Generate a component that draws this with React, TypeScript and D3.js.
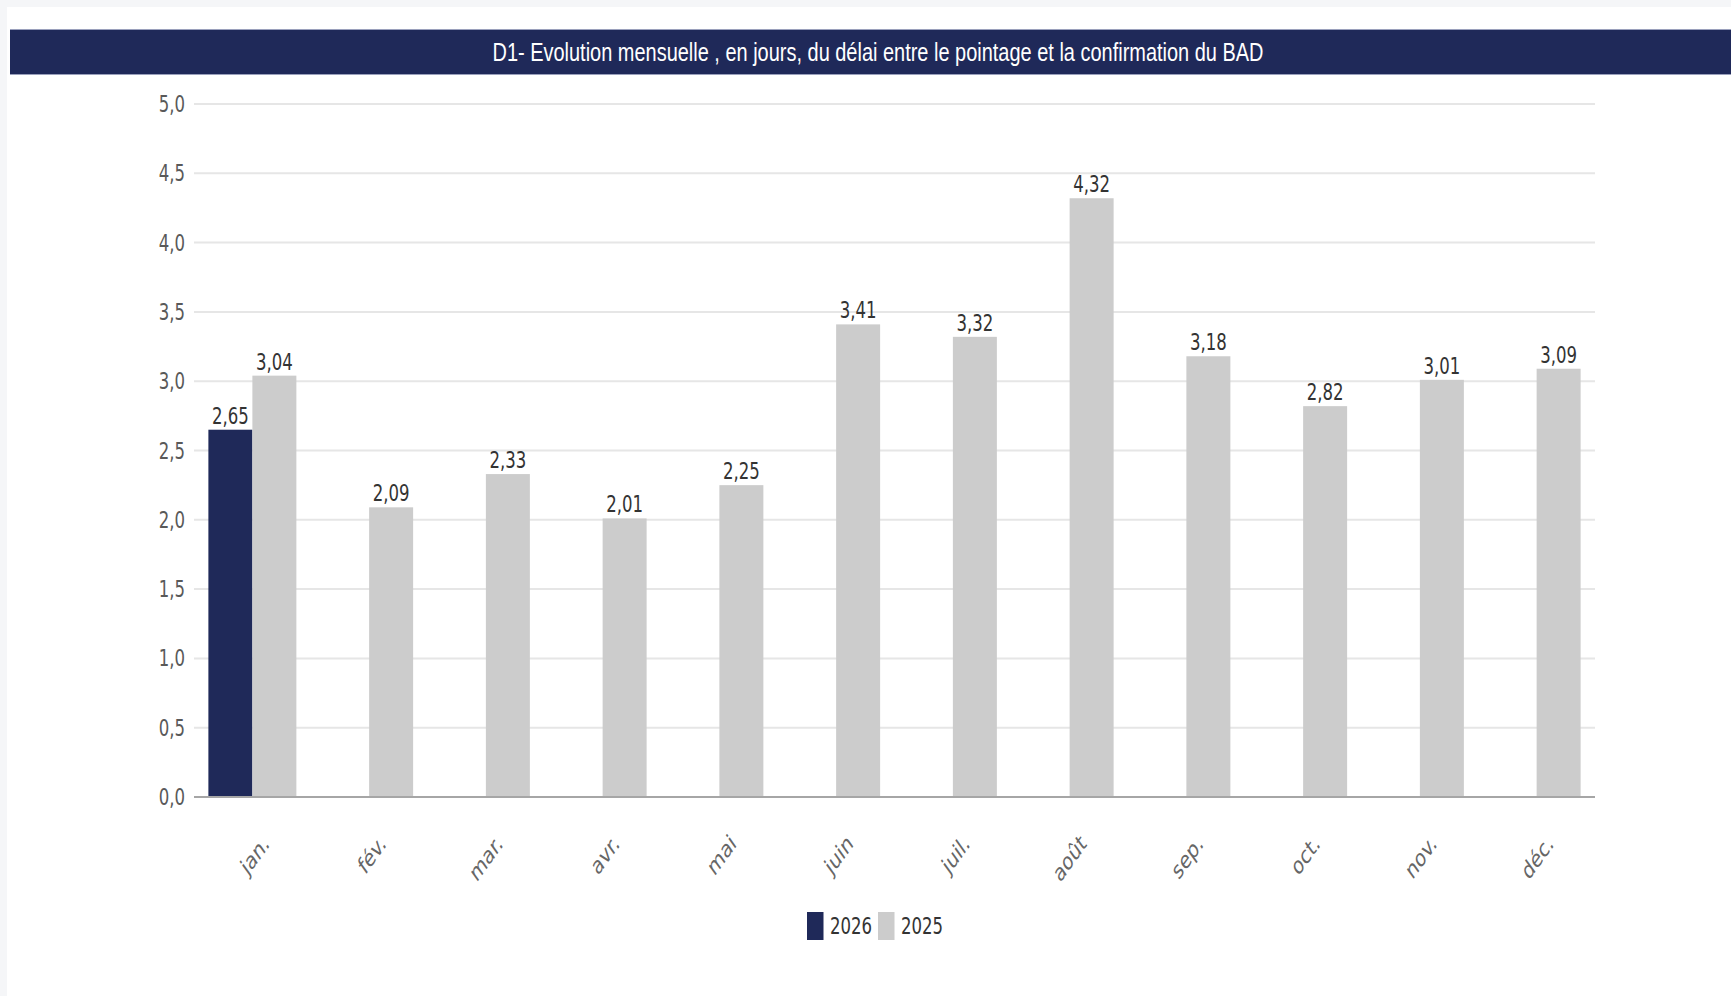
import React from "react";
import * as d3 from "d3";

const TITLE = "D1- Evolution mensuelle , en jours, du délai entre le pointage et la confirmation du BAD";
const months = ["jan.", "fév.", "mar.", "avr.", "mai", "juin", "juil.", "août", "sep.", "oct.", "nov.", "déc."];
const seriesNames = ["2026", "2025"];
const values2026: (number | null)[] = [2.65, null, null, null, null, null, null, null, null, null, null, null];
const values2025: (number | null)[] = [3.04, 2.09, 2.33, 2.01, 2.25, 3.41, 3.32, 4.32, 3.18, 2.82, 3.01, 3.09];
const yTicks = [0, 0.5, 1, 1.5, 2, 2.5, 3, 3.5, 4, 4.5, 5];

const W = 1731;
const H = 996;
const NAVY = "#1f2959";
const GREY = "#cccccc";
const SX = 0.72;
const FONT = "'DejaVu Sans', Verdana, sans-serif";

const fmt = (v: number, d: number) => v.toFixed(d).replace(".", ",");

export default function App() {
  const x = d3.scaleBand<string>().domain(months).range([194, 1595]).padding(0);
  const xi = d3
    .scaleBand<string>()
    .domain(seriesNames)
    .range([0, x.bandwidth()])
    .paddingInner(0)
    .paddingOuter(0.327);
  const y = d3.scaleLinear().domain([0, 5]).range([797, 104]);
  const colors: Record<string, string> = { "2026": NAVY, "2025": GREY };
  const data: Record<string, (number | null)[]> = { "2026": values2026, "2025": values2025 };

  return (
    <svg
      width={W}
      height={H}
      style={{ position: "absolute", left: 0, top: 0, display: "block" }}
    >
      <rect x={0} y={0} width={W} height={H} fill="#f5f6f8" />
      <rect x={7} y={7} width={W - 7} height={H - 7} fill="#ffffff" />
      {/* title bar */}
      <rect x={10} y={29} width={W - 10} height={46} fill={NAVY} />
      <line x1={10} x2={W} y1={29.5} y2={29.5} stroke="#9aa0bc" strokeWidth={1} />
      <line x1={10} x2={W} y1={74.5} y2={74.5} stroke="#9aa0bc" strokeWidth={1} />
      <text
        x={878}
        y={61}
        textAnchor="middle"
        fill="#ffffff"
        fontFamily="'Liberation Sans', Arial, sans-serif"
        fontSize={25}
        textLength={771}
        lengthAdjust="spacingAndGlyphs"
      >
        {TITLE}
      </text>

      {/* grid */}
      {yTicks.map((t) =>
        t === 0 ? null : (
          <line key={"g" + t} x1={194} x2={1595} y1={y(t)} y2={y(t)} stroke="#e6e6e6" strokeWidth={2} />
        )
      )}
      {yTicks.map((t) => (
        <text
          key={"yt" + t}
          transform={`translate(185,${y(t) + 8}) scale(${SX},1)`}
          textAnchor="end"
          fill="#595959"
          fontFamily={FONT}
          fontSize={23}
        >
          {fmt(t, 1)}
        </text>
      ))}

      {/* bars */}
      {seriesNames.map((s) =>
        months.map((m, i) => {
          const v = data[s][i];
          if (v == null) return null;
          const bx = (x(m) as number) + (xi(s) as number);
          return (
            <rect
              key={s + m}
              x={bx}
              y={y(v)}
              width={xi.bandwidth()}
              height={y(0) - y(v)}
              fill={colors[s]}
            />
          );
        })
      )}
      <line x1={194} x2={1595} y1={y(0)} y2={y(0)} stroke="#a6a6a6" strokeWidth={2} />

      {/* value labels */}
      {seriesNames.map((s) =>
        months.map((m, i) => {
          const v = data[s][i];
          if (v == null) return null;
          const cx = (x(m) as number) + (xi(s) as number) + xi.bandwidth() / 2;
          return (
            <text
              key={"v" + s + m}
              transform={`translate(${cx},${y(v) - 6}) scale(${SX},1)`}
              textAnchor="middle"
              fill="#333333"
              fontFamily={FONT}
              fontSize={23}
            >
              {fmt(v, 2)}
            </text>
          );
        })
      )}

      {/* x labels */}
      {months.map((m) => {
        const cx = (x(m) as number) + x.bandwidth() / 2;
        return (
          <text
            key={"x" + m}
            transform={`translate(${cx + 18},${845}) scale(${SX},1) rotate(-45)`}
            textAnchor="end"
            fill="#666666"
            fontFamily={FONT}
            fontSize={24}
          >
            {m}
          </text>
        );
      })}

      {/* legend */}
      {seriesNames.map((s, i) => {
        const lx = i === 0 ? 807 : 878;
        return (
          <g key={"lg" + s}>
            <rect x={lx} y={912} width={16.5} height={28} fill={colors[s]} />
            <text
              transform={`translate(${lx + 23},${934}) scale(${SX},1)`}
              fill="#333333"
              fontFamily={FONT}
              fontSize={23}
            >
              {s}
            </text>
          </g>
        );
      })}
    </svg>
  );
}
